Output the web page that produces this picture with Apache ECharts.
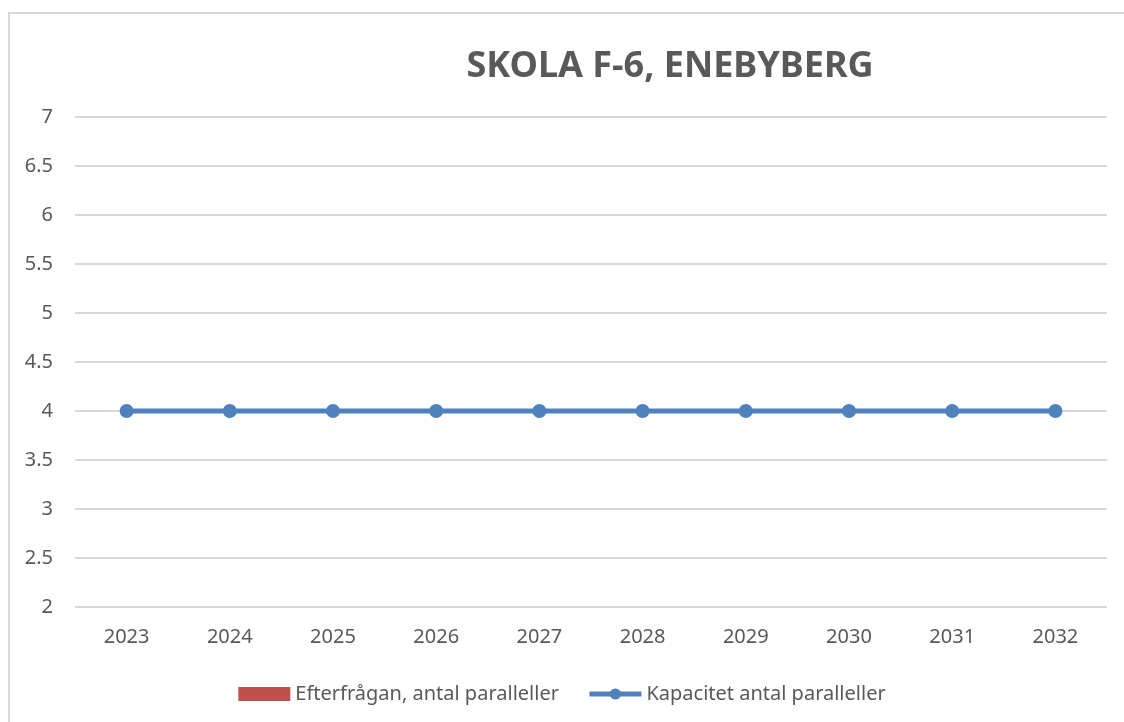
<!DOCTYPE html>
<html><head><meta charset="utf-8">
<script src="https://cdn.jsdelivr.net/npm/echarts@6/dist/echarts.min.js"></script>
<style>html,body{margin:0;padding:0;background:#fff}#c{width:1124px;height:722px}</style>
</head><body><div id="c"></div>
<script>
const categories = ['2023','2024','2025','2026','2027','2028','2029','2030','2031','2032'];
const demand = [null,null,null,null,null,null,null,null,null,null];
const capacity = [4,4,4,4,4,4,4,4,4,4];
const yTicks = {min:2, max:7, interval:0.5};

const chart = echarts.init(document.getElementById('c'));
const font = '"Noto Sans", sans-serif';
chart.setOption({
  animation:false,
  backgroundColor:'#fff',
  graphic:[{type:'rect',shape:{x:9,y:13,width:1200,height:800},style:{fill:'none',stroke:'#d9d9d9',lineWidth:2},silent:true}],
  title:{text:'SKOLA F-6, ENEBYBERG',left:665,top:44,textAlign:'center',
    textStyle:{fontFamily:font,fontSize:36,fontWeight:'bold',color:'#595959'}},
  grid:{left:75,right:17,top:117,bottom:115,containLabel:false},
  legend:{bottom:13,left:'center',itemGap:28,itemWidth:52,itemHeight:14,
    textStyle:{fontFamily:font,fontSize:20,color:'#595959'},
    data:[{name:'Efterfrågan, antal paralleller',icon:'rect'},
          {name:'Kapacitet antal paralleller',lineStyle:{width:5}}]},
  xAxis:{type:'category',data:categories,boundaryGap:true,
    axisLine:{show:false},axisTick:{show:false},
    axisLabel:{fontFamily:font,fontSize:20,color:'#595959',margin:20}},
  yAxis:{type:'value',min:yTicks.min,max:yTicks.max,interval:yTicks.interval,
    axisLine:{show:false},axisTick:{show:false},
    axisLabel:{fontFamily:font,fontSize:20,color:'#595959',margin:22},
    splitLine:{lineStyle:{color:'#d9d9d9',width:2}}},
  series:[
    {name:'Efterfrågan, antal paralleller',type:'bar',data:demand,itemStyle:{color:'#c0504d'}},
    {name:'Kapacitet antal paralleller',type:'line',data:capacity,symbol:'circle',symbolSize:14,
      lineStyle:{color:'#4f81bd',width:5},itemStyle:{color:'#4f81bd'}}
  ]
});
</script></body></html>
